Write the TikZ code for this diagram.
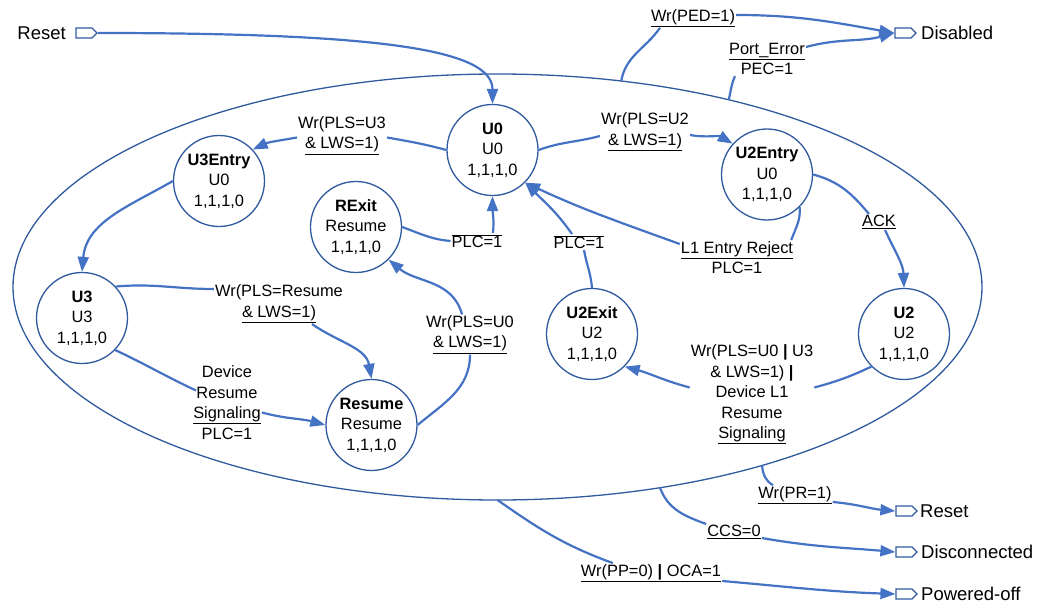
\documentclass[tikz,border=0pt]{standalone}
\usepackage{fontspec}
\setmainfont{Liberation Sans}
\usetikzlibrary{arrows.meta,shapes.geometric,shapes.symbols}
\definecolor{lc}{HTML}{4472C4}
\definecolor{sc}{HTML}{2F5A9E}
\newcommand\fsn{\fontsize{16.4}{20.5}\selectfont}
\newcommand\fst{\fontsize{18.5}{22}\selectfont}
\newcommand\ovl[1]{$\overline{\hbox{#1}}$}
\begin{document}
\begin{tikzpicture}[x=1pt,y=1pt,
  state/.style={circle,draw=sc,line width=1.3pt,minimum size=91pt,inner sep=0pt,align=center,font=\fsn},
  lbl/.style={align=center,inner sep=1pt,font=\fsn},
  ln/.style={draw=lc,line width=2.2pt},
  arr/.style={ln,-{Triangle[length=15pt,width=11pt]}},
  term/.style={signal,signal to=east,draw=sc,line width=1.2pt,minimum width=21pt,minimum height=10pt,inner sep=0pt},
  tlbl/.style={font=\fst,inner sep=0pt},
]
\useasboundingbox (0,0) rectangle (1042,-604);
\node[draw=sc,line width=1.3pt,ellipse,minimum width=969pt,minimum height=426pt,inner sep=0pt,outer sep=0pt] (E) at (497.5,-287) {};

% states
\node[state] (U0) at (492.5,-150) {\textbf{U0}\\U0\\1,1,1,0};
\node[state] (U3E) at (219,-181) {\textbf{U3Entry}\\U0\\1,1,1,0};
\node[state] (U2E) at (767,-174.5) {\textbf{U2Entry}\\U0\\1,1,1,0};
\node[state] (RX) at (356,-227) {\textbf{RExit}\\Resume\\1,1,1,0};
\node[state] (U3) at (82,-318) {\textbf{U3}\\U3\\1,1,1,0};
\node[state] (RS) at (371.5,-425) {\textbf{Resume}\\Resume\\1,1,1,0};
\node[state] (U2X) at (592,-334) {\textbf{U2Exit}\\U2\\1,1,1,0};
\node[state] (U2) at (904,-334) {\textbf{U2}\\U2\\1,1,1,0};

% terminals
\node[term] (tR0) at (84,-33) {};
\node[tlbl,anchor=east] (tR0t) at (66,-33) {Reset};
\node[term] (tDis) at (903,-33) {};
\node[tlbl,anchor=west] (tDist) at (921,-33) {Disabled};
\node[term] (tRes) at (904,-511) {};
\node[tlbl,anchor=west] (tRest) at (920,-511) {Reset};
\node[term] (tDc) at (904,-552) {};
\node[tlbl,anchor=west] (tDct) at (921,-552) {Disconnected};
\node[term] (tPo) at (904,-594) {};
\node[tlbl,anchor=west] (tPot) at (921,-594) {Powered-off};

% labels
\node[lbl] (L2) at (342,-135.5) {Wr(PLS=U3\\\underline{\& LWS=1)}};
\node[lbl] (L3) at (645,-132) {Wr(PLS=U2\\\underline{\& LWS=1)}};
\node[lbl] (L5) at (279,-304) {Wr(PLS=Resume\\\underline{\& LWS=1)}};
\node[lbl] (L6) at (227,-402.5) {Device\\Resume\\\underline{Signaling}\\PLC=1};
\node[lbl] (L7) at (470,-334.5) {Wr(PLS=U0\\\underline{\& LWS=1)}};
\node[lbl] (L8) at (477,-241) {\ovl{PLC=1}};
\node[lbl] (L9) at (579,-242) {\ovl{PLC=1}};
\node[lbl] (L10) at (737,-257.5) {\underline{L1 Entry Reject}\\PLC=1};
\node[lbl] (L11) at (879,-222) {\underline{ACK}};
\node[lbl] (L12) at (752,-394.5) {Wr(PLS=U0 \textbf{|} U3\\\& LWS=1) \textbf{|}\\Device L1\\Resume\\\underline{Signaling}};
\node[lbl] (L13) at (693,-18) {\underline{Wr(PED=1)}};
\node[lbl] (L14) at (767,-59) {\underline{Port\_Error}\\PEC=1};
\node[lbl] (L15) at (795,-495) {\underline{Wr(PR=1)}};
\node[lbl] (L16) at (734,-532) {\underline{CCS=0}};
\node[lbl] (L17) at (651,-573) {\underline{Wr(PP=0) \textbf{|} OCA=1}};

% connectors
\draw[arr] (tR0.east) .. controls +(285,0) and +(0,54) .. (U0.north);
\draw[ln] (U0.west) to[out=165,in=-10] ([yshift=-2pt]L2.east);
\draw[arr] ([yshift=-2pt]L2.west) to[out=190,in=25] (U3E.43);
\draw[ln] (U0.east) to[out=20,in=195] ([yshift=-4pt]L3.west);
\draw[arr] ([yshift=-3pt]L3.east) to[out=-10,in=150] (U2E.138);
\draw[arr] (U3E.west) to[out=210,in=85] (U3.north);
\draw[ln] (U3.43) to[out=5,in=180] ([yshift=15pt]L5.west);
\draw[arr] ([xshift=-32pt]L5.south east) to[out=-35,in=100] (RS.north);
\draw[ln] (U3.-44) to[out=-25,in=155] ([shift={(4pt,12pt)}]L6.west);
\draw[arr] ([yshift=-10pt]L6.east) to[out=-15,in=165] (RS.west);
\draw[ln] (RS.east) to[out=40,in=-90] (L7.south);
\draw[arr] ([xshift=-8pt]L7.north) to[out=105,in=-40] (RX.-45);
\draw[ln] (RX.east) to[out=-20,in=175] (L8.west);
\draw[arr] ([xshift=16pt]L8.north) to[out=85,in=-90] (U0.south);
\draw[ln] (U2X.north) to[out=95,in=-80] ([xshift=5pt]L9.south);
\draw[arr] ([xshift=-7pt]L9.north) to[out=125,in=-45] (U0.-45);
\draw[ln] (U2E.-45) to[out=-85,in=70] ([xshift=-3pt]L10.north east);
\draw[arr] ([yshift=-4pt]L10.north west) to[out=160,in=-25] (U0.-45);
\draw[ln] (U2E.east) to[out=-15,in=130] ([xshift=-10pt]L11.north);
\draw[arr] ([xshift=6pt]L11.south) to[out=-65,in=92] (U2.north);
\draw[ln] (U2.-135) to[out=205,in=15] ([yshift=7pt]L12.east);
\draw[arr] ([yshift=7pt]L12.west) to[out=165,in=-15] (U2X.-45);
\draw[ln] (E.59) to[out=80,in=-125] ([xshift=-33pt]L13.south);
\draw[arr] ([yshift=3pt]L13.east) to[out=0,in=170] (tDis.west);
\draw[ln] (E.39) to[out=75,in=-115] ([xshift=-32pt]L14.south);
\draw[arr] ([yshift=12pt]L14.east) to[out=15,in=-165] (tDis.west);
\draw[ln] (E.-34) to[out=-85,in=150] ([xshift=-22pt]L15.north);
\draw[arr] ([yshift=-7pt]L15.east) to[out=-5,in=175] (tRes.west);
\draw[ln] (E.-51) to[out=-70,in=160] (L16.north west);
\draw[arr] ([yshift=-6pt]L16.east) to[out=-10,in=175] (tDc.west);
\draw[ln] (E.-90) to[out=-35,in=160] ([xshift=33pt]L17.north west);
\draw[arr] ([yshift=-8pt]L17.east) to[out=-5,in=178] (tPo.west);
\end{tikzpicture}
\end{document}
